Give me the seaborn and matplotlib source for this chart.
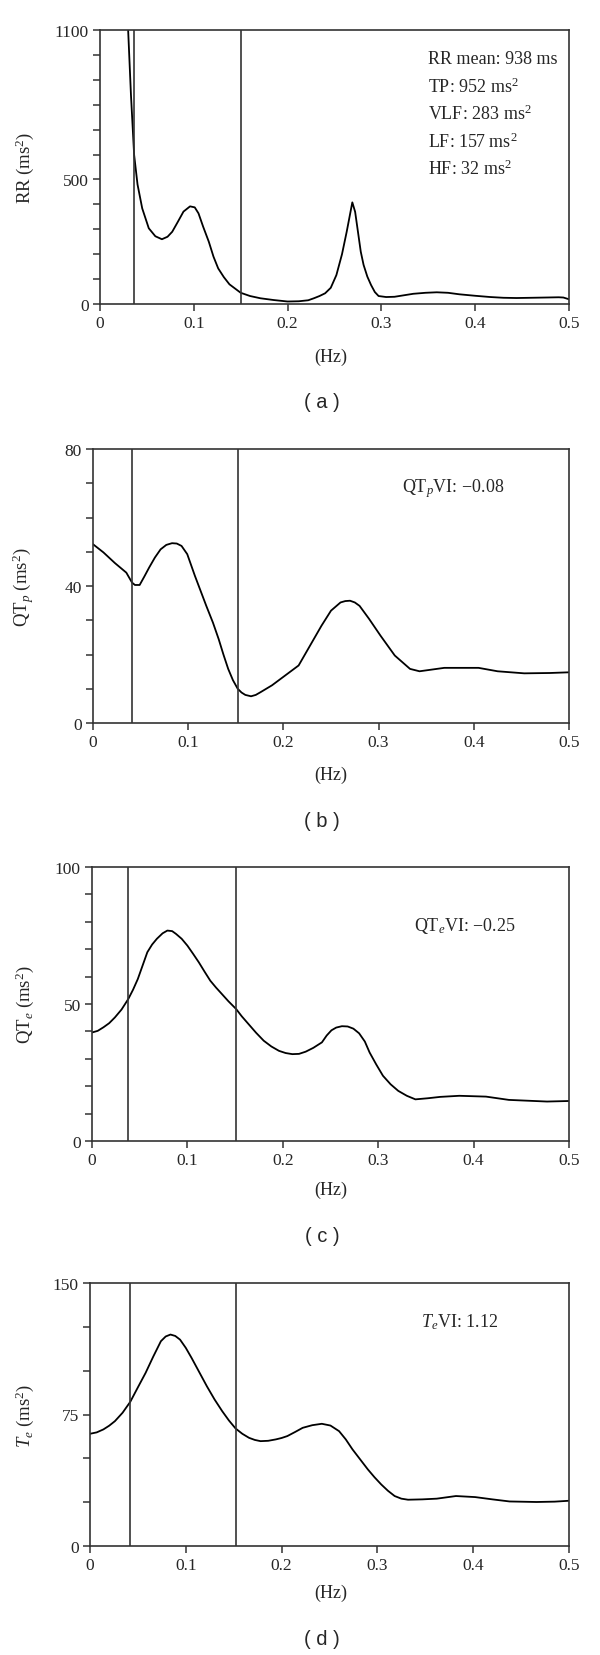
import numpy as np
import pandas as pd
import matplotlib
matplotlib.use("Agg")
import matplotlib.pyplot as plt
import seaborn as sns

# ---------------- data ----------------
# (a) RR spectrum
rr_hz = [0.022, 0.025, 0.030, 0.033, 0.0364, 0.040, 0.045, 0.052, 0.059, 0.066, 0.072, 0.077,
         0.083, 0.089, 0.096, 0.101, 0.105, 0.110, 0.116, 0.121, 0.126, 0.132, 0.138, 0.150,
         0.160, 0.171, 0.185, 0.200, 0.212, 0.222, 0.228, 0.234, 0.240, 0.246, 0.252, 0.258,
         0.263, 0.269, 0.272, 0.275, 0.278, 0.281, 0.285, 0.289, 0.293, 0.297, 0.305, 0.314,
         0.324, 0.334, 0.347, 0.359, 0.371, 0.383, 0.400, 0.416, 0.430, 0.444, 0.460, 0.475,
         0.489, 0.494, 0.500]
rr_psd = [1700, 1300, 1100, 840, 598, 480, 384, 304, 272, 260, 270, 290,
          330, 371, 392, 388, 364, 310, 250, 190, 143, 108, 79, 45,
          32, 23, 16, 10, 11, 15, 23, 32, 43, 65, 116, 200,
          290, 408, 370, 290, 210, 157, 110, 76, 48, 32, 28, 29,
          35, 41, 45, 47, 45, 39, 33, 28, 25, 24, 25, 26,
          27, 26, 19]

# (b) QTp spectrum
qtp_hz = [0.000, 0.011, 0.023, 0.035, 0.041, 0.044, 0.049, 0.054, 0.059, 0.065, 0.071, 0.077,
          0.083, 0.088, 0.093, 0.099, 0.107, 0.113, 0.119, 0.126, 0.132, 0.137, 0.142, 0.147,
          0.152, 0.156, 0.160, 0.166, 0.171, 0.176, 0.188, 0.202, 0.216, 0.228, 0.240, 0.250,
          0.260, 0.265, 0.270, 0.275, 0.280, 0.290, 0.302, 0.317, 0.333, 0.343, 0.369, 0.405,
          0.425, 0.453, 0.480, 0.500]
qtp_psd = [52.2, 49.8, 46.7, 43.9, 41.0, 40.3, 40.3, 42.8, 45.4, 48.3, 50.7, 52.0,
           52.5, 52.4, 51.7, 49.3, 43.0, 38.6, 34.2, 29.3, 24.5, 20.0, 15.8, 12.5,
           10.0, 8.9, 8.2, 7.8, 8.2, 9.0, 11.0, 13.9, 16.8, 22.6, 28.4, 32.8,
           35.2, 35.6, 35.7, 35.2, 34.2, 30.4, 25.5, 19.7, 15.8, 15.1, 16.1, 16.1,
           15.1, 14.5, 14.6, 14.8]

# (c) QTe spectrum
qte_hz = [0.000, 0.006, 0.012, 0.018, 0.024, 0.031, 0.038, 0.043, 0.048, 0.053, 0.058, 0.063,
          0.068, 0.074, 0.079, 0.084, 0.088, 0.094, 0.100, 0.106, 0.112, 0.118, 0.124, 0.130,
          0.136, 0.143, 0.151, 0.157, 0.164, 0.172, 0.180, 0.188, 0.196, 0.203, 0.210, 0.217,
          0.224, 0.232, 0.241, 0.246, 0.251, 0.256, 0.262, 0.268, 0.274, 0.280, 0.286, 0.291,
          0.298, 0.305, 0.313, 0.321, 0.330, 0.339, 0.352, 0.365, 0.385, 0.413, 0.437, 0.457,
          0.477, 0.500]
qte_psd = [39.6, 40.2, 41.5, 43.0, 45.1, 48.0, 51.8, 55.2, 59.1, 64.0, 68.9, 71.7,
           73.8, 75.8, 76.8, 76.6, 75.6, 73.8, 71.3, 68.3, 65.2, 61.8, 58.5, 56.0,
           53.7, 51.0, 48.2, 45.5, 42.7, 39.5, 36.6, 34.5, 32.9, 32.1, 31.7, 31.8,
           32.6, 34.0, 36.0, 38.5, 40.4, 41.4, 41.9, 41.8, 41.0, 39.3, 36.3, 32.3,
           27.9, 23.8, 20.7, 18.3, 16.5, 15.2, 15.6, 16.1, 16.5, 16.2, 15.0, 14.7,
           14.4, 14.6]

# (d) Te spectrum
te_hz = [0.000, 0.007, 0.014, 0.020, 0.026, 0.034, 0.042, 0.050, 0.058, 0.066, 0.074, 0.079,
         0.084, 0.089, 0.094, 0.100, 0.106, 0.114, 0.122, 0.130, 0.138, 0.145, 0.152, 0.159,
         0.166, 0.172, 0.178, 0.186, 0.194, 0.200, 0.206, 0.214, 0.222, 0.232, 0.242, 0.251,
         0.260, 0.267, 0.274, 0.282, 0.290, 0.297, 0.304, 0.311, 0.318, 0.325, 0.332, 0.347,
         0.362, 0.382, 0.402, 0.420, 0.438, 0.466, 0.485, 0.500]
te_psd = [64.0, 64.8, 66.5, 68.6, 71.2, 76.0, 82.2, 90.5, 98.7, 108.0, 116.8, 119.5,
          120.6, 119.8, 117.7, 113.0, 107.3, 99.2, 91.1, 83.6, 76.9, 71.6, 67.0, 64.0,
          61.7, 60.5, 59.8, 60.0, 60.8, 61.6, 62.7, 65.0, 67.4, 68.9, 69.7, 68.7,
          65.5, 60.8, 55.1, 49.4, 43.7, 39.2, 35.1, 31.5, 28.5, 27.0, 26.4, 26.6,
          27.0, 28.5, 27.9, 26.6, 25.4, 25.1, 25.3, 25.8]

band_lines = [[0.036, 0.150], [0.041, 0.152], [0.038, 0.151], [0.042, 0.152]]

y_limits = [1100, 80, 100, 150]
y_major = [[0, 500, 1100], [0, 40, 80], [0, 50, 100], [0, 75, 150]]
y_minor_step = [100, 10, 10, 25]
x_ticks = [0, 0.1, 0.2, 0.3, 0.4, 0.5]
x_ticklabels = ["0", "0.1", "0.2", "0.3", "0.4", "0.5"]

y_labels = [r"RR (ms$^2$)", r"QT$_{\mathit{p}}$ (ms$^2$)", r"QT$_{\mathit{e}}$ (ms$^2$)",
            r"$\mathit{T}_{\mathit{e}}$ (ms$^2$)"]
panel_letters = ["( a )", "( b )", "( c )", "( d )"]

rr_info = ["RR mean: 938 ms", r"TP: 952 ms$^2$", r"VLF: 283 ms$^2$",
           r"LF: 157 ms$^2$", r"HF: 32 ms$^2$"]
vi_texts = [None, "QT$_{\\mathit{p}}$VI: \u22120.08", "QT$_{\\mathit{e}}$VI: \u22120.25",
            "$\\mathit{T}_{\\mathit{e}}$VI: 1.12"]

series = [(rr_hz, rr_psd), (qtp_hz, qtp_psd), (qte_hz, qte_psd), (te_hz, te_psd)]

# ---------------- style ----------------
sns.set_theme(style="ticks")
plt.rcParams["font.family"] = ["Liberation Serif", "DejaVu Serif"]
plt.rcParams["mathtext.fontset"] = "custom"
plt.rcParams["mathtext.rm"] = "Liberation Serif"
plt.rcParams["mathtext.it"] = "Liberation Serif:italic"
plt.rcParams["mathtext.bf"] = "Liberation Serif:bold"

W, H = 600, 1656
fig = plt.figure(figsize=(W / 100, H / 100), dpi=100)

# axes boxes in pixels: left, right, top, bottom
boxes = [(100, 569, 31, 305), (93, 569, 450, 724), (92, 569, 868, 1142), (90, 569, 1284, 1547)]
hz_y = [357, 775, 1190, 1593]
letter_y = [402, 822, 1237, 1640]

frame_col = "#333333"
fs_tick = 12.5
fs_text = 13

for i, (l, r, t, b) in enumerate(boxes):
    ax = fig.add_axes([l / W, 1 - b / H, (r - l) / W, (b - t) / H])
    hz, psd = series[i]
    df = pd.DataFrame({"Hz": hz, "PSD": psd})
    sns.lineplot(data=df, x="Hz", y="PSD", ax=ax, color="black", linewidth=1.3,
                 estimator=None, sort=False)
    for xv in band_lines[i]:
        ax.axvline(xv, color=frame_col, linewidth=1.2)
    ax.set_xlim(0, 0.5)
    ax.set_ylim(0, y_limits[i])
    ax.set_xticks(x_ticks)
    ax.set_xticklabels(x_ticklabels)
    ax.set_yticks(y_major[i])
    ax.set_yticklabels([str(v) for v in y_major[i]])
    ax.set_yticks(np.arange(0, y_limits[i] + 1e-9, y_minor_step[i]), minor=True)
    ax.tick_params(axis="both", which="both", direction="out", length=5, width=1.1,
                   color=frame_col, labelsize=fs_tick, pad=3)
    ax.tick_params(axis="x", which="minor", length=0)
    for s in ax.spines.values():
        s.set_visible(True)
        s.set_color(frame_col)
        s.set_linewidth(1.2)
    ax.set_xlabel("")
    ax.set_ylabel(y_labels[i], fontsize=13.5)
    ax.yaxis.set_label_coords((36 - l) / (r - l), 0.5)
    fig.text(331 / W, 1 - hz_y[i] / H, "(Hz)", ha="center", va="center", fontsize=fs_text)
    fig.text(322 / W, 1 - letter_y[i] / H, panel_letters[i], ha="center", va="center",
             fontsize=14.5, family=["Liberation Sans", "DejaVu Sans"])

    if i == 0:
        ys = [986, 872, 765, 652, 545]
        for txt, yv in zip(rr_info, ys):
            ax.text(0.35, yv, txt, ha="left", va="center", fontsize=fs_text)
    else:
        pos = [None, (0.325, 68.7), (0.338, 78.7), (0.346, 128)][i]
        ax.text(pos[0], pos[1], vi_texts[i], ha="left", va="center", fontsize=fs_text)

fig.savefig("out.png", dpi=100, facecolor="white")
